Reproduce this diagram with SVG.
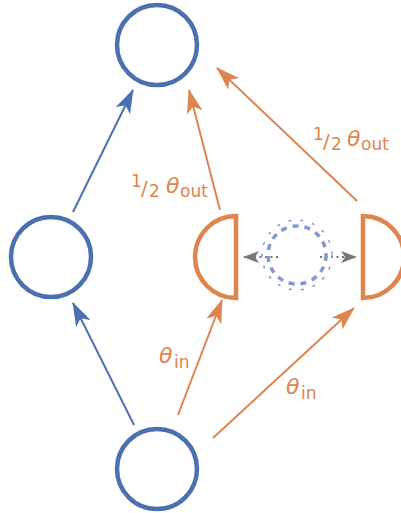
<svg xmlns="http://www.w3.org/2000/svg" width="401" height="513" viewBox="0 0 401 513">
  <style>
    .node { fill: none; stroke: #4a70b0; stroke-width: 4.5; }
    .half { fill: none; stroke: #e0844e; stroke-width: 4.5; }
    .eb { stroke: #4a70b0; stroke-width: 2; fill: none; }
    .eo { stroke: #e0844e; stroke-width: 2; fill: none; }
    .lbl { font-family: "DejaVu Sans", sans-serif; fill: #e0844e; }
    .big { font-size: 22px; font-style: italic; }
    .sm { font-size: 17px; }
    .dots { stroke: #777; stroke-width: 2; stroke-dasharray: 2 3.5; fill: none; }
  </style>
  <defs>
    <marker id="hb" viewBox="0 0 24 16" refX="23" refY="8" markerWidth="24" markerHeight="16" markerUnits="userSpaceOnUse" orient="auto">
      <path d="M0,0 L24,8 L0,16 L6,8 Z" fill="#4a70b0"/>
    </marker>
    <marker id="ho" viewBox="0 0 24 16" refX="23" refY="8" markerWidth="24" markerHeight="16" markerUnits="userSpaceOnUse" orient="auto">
      <path d="M0,0 L24,8 L0,16 L6,8 Z" fill="#e0844e"/>
    </marker>
    <marker id="hg" viewBox="0 0 16 12" refX="15" refY="6" markerWidth="16" markerHeight="12" markerUnits="userSpaceOnUse" orient="auto">
      <path d="M0,0 L16,6 L0,12 L4,6 Z" fill="#777"/>
    </marker>
  </defs>

  <g id="connectors">
    <line class="eb" x1="73" y1="212" x2="133" y2="90" marker-end="url(#hb)"/>
    <line class="eb" x1="134" y1="425" x2="73" y2="303" marker-end="url(#hb)"/>
    <line class="eo" x1="178" y1="415" x2="222" y2="300" marker-end="url(#ho)"/>
    <line class="eo" x1="213" y1="438" x2="354" y2="308" marker-end="url(#ho)"/>
    <line class="eo" x1="220" y1="210" x2="189" y2="90" marker-end="url(#ho)"/>
    <line class="eo" x1="357" y1="201" x2="217" y2="68" marker-end="url(#ho)"/>
    <line class="dots" x1="278" y1="257" x2="244" y2="257" marker-end="url(#hg)"/>
    <line class="dots" x1="320" y1="257" x2="356" y2="257" marker-end="url(#hg)"/>
  </g>

  <g id="top"><circle class="node" cx="157" cy="45" r="40"/></g>
  <g id="left"><circle class="node" cx="51" cy="257" r="40"/></g>
  <g id="bottom"><circle class="node" cx="157" cy="469" r="40"/></g>
  <g id="half-left"><path class="half" d="M236,216 A41,41 0 0 0 236,298 Z"/></g>
  <g id="half-right"><path class="half" d="M363,216 A41,41 0 0 1 363,298 Z"/></g>
  <g id="ghost">
    <circle cx="297" cy="255" r="29" fill="none" stroke="#7f9bd0" stroke-width="3.5" stroke-dasharray="6 6"/>
    <circle cx="297" cy="255" r="35" fill="none" stroke="#7f9bd0" stroke-width="1.5" stroke-dasharray="3 9"/>
  </g>

  <g id="labels">
    <g id="label-out-left">
      <text class="lbl sm" x="131" y="187">1</text>
      <text class="lbl" x="141" y="195" font-size="20">/</text>
      <text class="lbl sm" x="149" y="197">2</text>
      <text class="lbl big" x="166" y="193">θ</text>
      <text class="lbl sm" x="180" y="197">out</text>
    </g>
    <g id="label-out-right">
      <text class="lbl sm" x="313" y="140">1</text>
      <text class="lbl" x="323" y="148" font-size="20">/</text>
      <text class="lbl sm" x="331" y="150">2</text>
      <text class="lbl big" x="347" y="146">θ</text>
      <text class="lbl sm" x="361" y="150">out</text>
    </g>
    <g id="label-in-left">
      <text class="lbl big" x="159" y="363">θ</text>
      <text class="lbl sm" x="174" y="368">in</text>
    </g>
    <g id="label-in-right">
      <text class="lbl big" x="286" y="394">θ</text>
      <text class="lbl sm" x="301" y="399">in</text>
    </g>
  </g>
</svg>
